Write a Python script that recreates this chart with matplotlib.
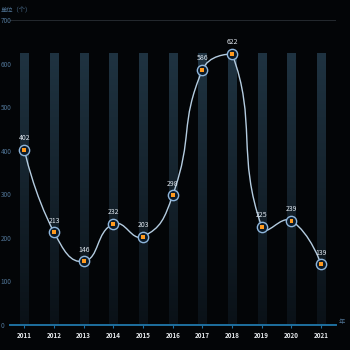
import numpy as np
import matplotlib
matplotlib.use("Agg")
import matplotlib.pyplot as plt
from matplotlib.path import Path
from matplotlib.patches import PathPatch
from matplotlib.colors import LinearSegmentedColormap

plt.rcParams['font.family'] = ['Noto Sans CJK SC', 'DejaVu Sans']

years = ['2011', '2012', '2013', '2014', '2015', '2016', '2017', '2018', '2019', '2020', '2021']
values = [402, 213, 146, 232, 203, 298, 586, 622, 225, 239, 139]
bg_values = [625] * len(years)
yticks = [0, 100, 200, 300, 400, 500, 600, 700]
y_name = '单位（个）'
x_name = '年'

BG = '#030507'
fig = plt.figure(figsize=(3.5, 3.5), dpi=100, facecolor=BG)
ax = fig.add_axes([9.5 / 350, 25 / 350, 326.5 / 350, 305 / 350])
ax.set_facecolor(BG)
x = np.arange(len(years))
ax.set_xlim(-0.5, len(years) - 0.5)
ax.set_ylim(0, 700)

# background gradient bars
bars = ax.bar(x, bg_values, width=0.27, color='none', edgecolor='none', zorder=1)
grad = np.linspace(1, 0, 256).reshape(-1, 1)
cmap = LinearSegmentedColormap.from_list('g', ['#0a1117', '#1f3341'])
for b in bars:
    im = ax.imshow(grad, extent=[b.get_x(), b.get_x() + b.get_width(), 0, b.get_height()],
                   aspect='auto', cmap=cmap, origin='upper', zorder=1, vmin=0, vmax=1)
    im.set_clip_path(b)

ax.axhline(700, color='#2a2f35', lw=0.6, zorder=0)

# smooth line (echarts 4 style) computed in pixel space
fig.canvas.draw()
pts = ax.transData.transform(np.column_stack([x, values]))
smooth = 0.5
pmin = pts.min(axis=0)
pmax = pts.max(axis=0)
n = len(pts)
verts = [tuple(pts[0])]
codes = [Path.MOVETO]
cp0 = pts[0].copy()
for i in range(1, n):
    p = pts[i]
    prev = pts[i - 1]
    ratio = 0.5
    v = np.zeros(2)
    if i + 1 < n:
        nxt = pts[i + 1]
        v = nxt - prev
        d0 = np.hypot(*(p - prev))
        d1 = np.hypot(*(nxt - p))
        ratio = d1 / (d0 + d1)
        cp1 = p - v * smooth * (1 - ratio)
    else:
        cp1 = p.copy()
    cp0 = np.maximum(np.minimum(cp0, pmax), pmin)
    cp1 = np.maximum(np.minimum(cp1, pmax), pmin)
    verts += [tuple(cp0), tuple(cp1), tuple(p)]
    codes += [Path.CURVE4] * 3
    cp0 = p + v * smooth * ratio
verts = ax.transData.inverted().transform(np.array(verts))
ax.add_patch(PathPatch(Path(verts, codes), facecolor='none', edgecolor='#b4cce0', lw=1.0, zorder=3))

# markers
ax.scatter(x, values, s=55, facecolor='#0b1a28', edgecolor='#8fb6dc', linewidths=1.0, zorder=4)
ax.scatter(x, values, s=8, facecolor='#ff9a1f', edgecolor='none', marker='s', zorder=5)
for xi, v in zip(x, values):
    ax.annotate(str(v), (xi, v), xytext=(0, 5.5), textcoords='offset points', ha='center',
                va='bottom', color='#dfe6ee', fontsize=5, zorder=6)

for s in ['top', 'right', 'left']:
    ax.spines[s].set_visible(False)
ax.spines['bottom'].set_color('#1e6f9f')
ax.spines['bottom'].set_linewidth(1.4)
ax.set_xticks(x)
ax.set_xticklabels(years, color='#e6e9ec', fontsize=4.5, fontweight='bold')
ax.tick_params(axis='x', length=2, color='#1e6f9f', pad=3)
ax.set_yticks(yticks)
ax.set_yticklabels([str(t) for t in yticks], color='#4f7394', fontsize=4.6)
ax.tick_params(axis='y', length=0, pad=6.5)
for lab in ax.get_yticklabels():
    lab.set_horizontalalignment('left')

fig.text(1 / 350, 1 - 10 / 350, y_name, color='#4f7394', fontsize=4.5, va='center', ha='left')
fig.text(339 / 350, 28 / 350, x_name, color='#4f7394', fontsize=4.5, va='center', ha='left')

fig.savefig('out.png', dpi=100, facecolor=BG)
